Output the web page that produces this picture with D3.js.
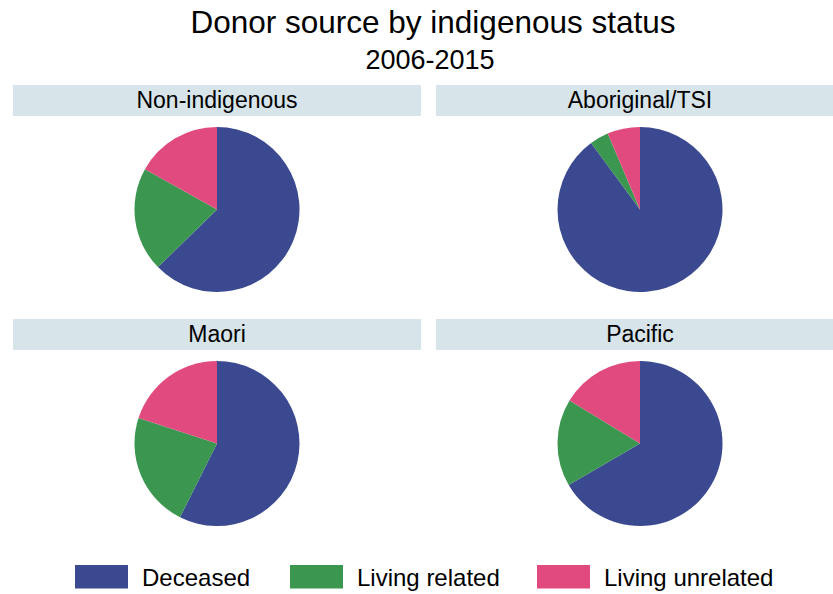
<!DOCTYPE html>
<html>
<head>
<meta charset="utf-8">
<script src="https://cdn.jsdelivr.net/npm/d3@7"></script>
<style>
  body { margin: 0; background: #fff; }
  svg { display: block; font-family: "Liberation Sans", Arial, sans-serif; }
</style>
</head>
<body>
<svg></svg>
<script>
// chart data
const groups = ['Non-indigenous', 'Aboriginal/TSI', 'Maori', 'Pacific']
const sources = ['Deceased', 'Living related', 'Living unrelated']
const deceased = [62.7, 89.9, 57.4, 66.6]
const livingRelated = [20.4, 3.7, 22.6, 17.1]
const livingUnrelated = [16.9, 6.4, 20.0, 16.3]
const colours = ['#3b4991', '#3b9650', '#e14a7f']

const width = 833
const height = 594
const svg = d3.select('svg').attr('width', width).attr('height', height)

const drawTitles = ()=>{
    svg.append('text')
        .attr('x', 433)
        .attr('y', 33)
        .attr('text-anchor', 'middle')
        .attr('font-size', 31.5)
        .text('Donor source by indigenous status')
    svg.append('text')
        .attr('x', 430)
        .attr('y', 69)
        .attr('text-anchor', 'middle')
        .attr('font-size', 27)
        .text('2006-2015')
}

const drawPanels = ()=>{
    // strips are 408 wide, the right one runs past the page edge
    const col = d3.scaleOrdinal().domain([0, 1]).range([13, 436])
    const row = d3.scaleOrdinal().domain([0, 1]).range([85, 319])
    const stripW = 408
    const radius = 82.5
    const pie = d3.pie().sort(null).value(d => d)
    const arc = d3.arc().innerRadius(0).outerRadius(radius)
    const colour = d3.scaleOrdinal().domain(sources).range(colours)

    groups.forEach((name, i)=>{
        const x0 = col(i % 2)
        const y0 = row(Math.floor(i / 2))
        const g = svg.append('g').attr('class', 'panel')

        g.append('rect')
            .attr('x', x0)
            .attr('y', y0)
            .attr('width', stripW)
            .attr('height', 31)
            .attr('fill', '#d7e4e9')
        g.append('text')
            .attr('x', x0 + stripW / 2)
            .attr('y', y0 + 23)
            .attr('text-anchor', 'middle')
            .attr('font-size', 23)
            .text(name)

        const values = [deceased[i], livingRelated[i], livingUnrelated[i]]
        g.append('g')
            .attr('transform', `translate(${x0 + stripW / 2}, ${y0 + 124.5})`)
            .selectAll('path')
            .data(pie(values))
            .enter()
            .append('path')
            .attr('d', arc)
            .attr('fill', (d, k) => colour(sources[k]))
    })
}

const drawLegend = ()=>{
    const xs = d3.scaleOrdinal().domain(sources).range([75, 290, 537])
    const item = svg.append('g').attr('class', 'legend')
        .selectAll('g')
        .data(sources)
        .enter()
        .append('g')
        .attr('transform', d => `translate(${xs(d)}, 565)`)
    item.append('rect')
        .attr('width', 53)
        .attr('height', 23.5)
        .attr('fill', d => colours[sources.indexOf(d)])
    item.append('text')
        .attr('x', 67)
        .attr('y', 21)
        .attr('font-size', 24)
        .text(d => d)
}

drawTitles()
drawPanels()
drawLegend()
</script>
</body>
</html>
